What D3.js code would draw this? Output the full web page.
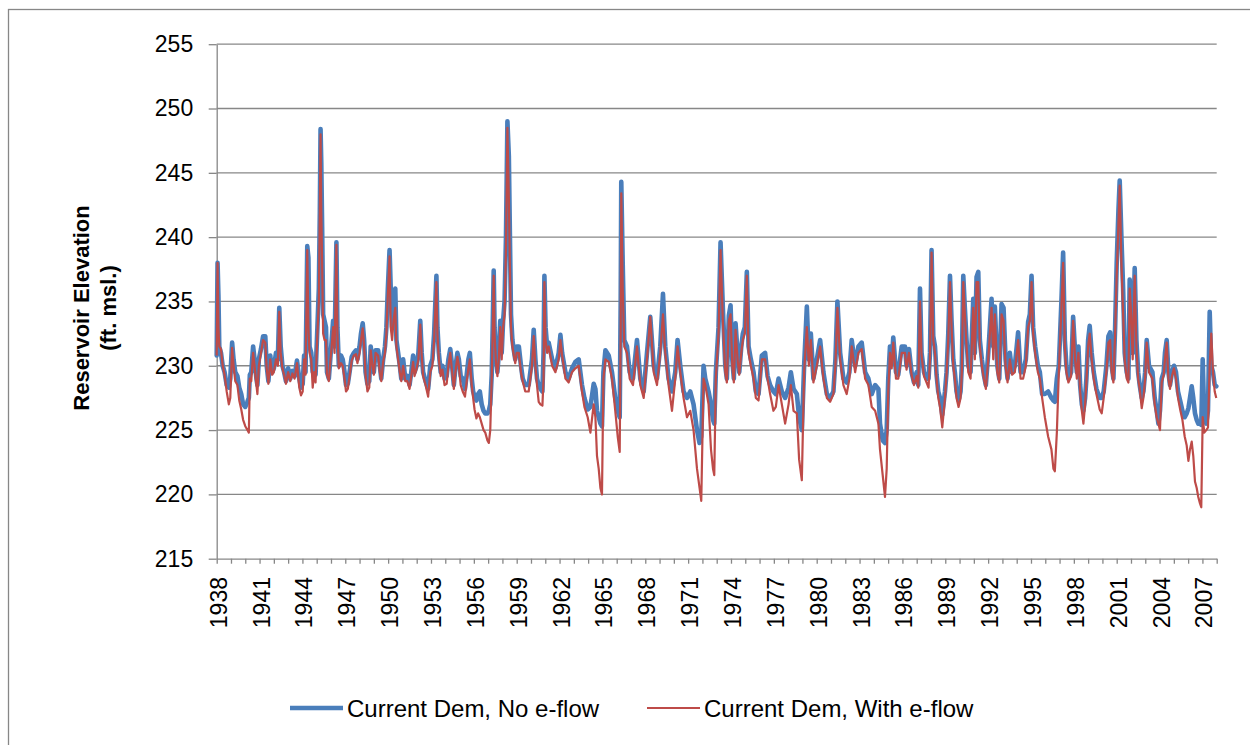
<!DOCTYPE html>
<html><head><meta charset="utf-8">
<script src="https://cdn.jsdelivr.net/npm/d3@7"></script>
<style>
body{margin:0;background:#fff}
svg{display:block}
text{font-family:"Liberation Sans",Arial,sans-serif;fill:#000}
</style>
</head><body>
<svg id="chart" width="1250" height="745"></svg>
<script>
// ---- data (decimal year, elevation in ft msl) ----
const dates = [
1938.00,1938.06,1938.12,1938.18,1938.30,1938.42,1938.55,1938.70,1938.85,1938.95,
1939.08,1939.18,1939.30,1939.45,1939.58,1939.72,1939.85,
1940.00,1940.15,1940.25,1940.32,1940.42,1940.55,1940.65,1940.78,1940.85,1940.95,
1941.10,1941.25,1941.40,1941.50,1941.62,1941.75,1941.88,
1942.00,1942.15,1942.28,1942.38,1942.48,1942.60,1942.72,1942.85,
1943.00,1943.15,1943.30,1943.45,1943.62,1943.78,1943.90,
1944.02,1944.12,1944.22,1944.34,1944.42,1944.50,1944.62,1944.72,1944.82,1944.92,
1945.05,1945.15,1945.22,1945.27,1945.32,1945.38,1945.45,1945.55,1945.65,1945.72,1945.85,1945.95,
1946.05,1946.15,1946.25,1946.38,1946.45,1946.55,1946.70,1946.82,1946.95,
1947.05,1947.18,1947.30,1947.45,1947.60,1947.75,1947.85,
1948.00,1948.10,1948.22,1948.32,1948.42,1948.55,1948.68,1948.78,1948.88,
1949.00,1949.12,1949.30,1949.42,1949.52,1949.65,1949.78,1949.88,1949.98,
1950.10,1950.18,1950.28,1950.38,1950.50,1950.58,1950.70,1950.82,1950.92,
1951.05,1951.20,1951.35,1951.50,1951.62,1951.75,1951.85,
1952.00,1952.12,1952.25,1952.35,1952.45,1952.62,1952.80,1952.95,
1953.10,1953.22,1953.38,1953.45,1953.55,1953.68,1953.80,1953.95,
1954.10,1954.22,1954.35,1954.48,1954.60,1954.72,1954.85,1954.95,
1955.08,1955.22,1955.38,1955.50,1955.62,1955.72,1955.85,1955.95,
1956.05,1956.18,1956.30,1956.42,1956.55,1956.68,1956.80,1956.95,
1957.05,1957.15,1957.25,1957.32,1957.39,1957.45,1957.55,1957.65,1957.75,1957.85,1957.95,
1958.05,1958.15,1958.25,1958.35,1958.45,1958.52,1958.60,1958.70,1958.80,1958.90,
1959.00,1959.15,1959.30,1959.42,1959.60,1959.84,
1960.07,1960.19,1960.31,1960.42,1960.54,1960.66,1960.80,1960.88,1960.94,
1961.02,1961.13,1961.24,1961.48,1961.71,1961.94,
1962.06,1962.18,1962.41,1962.64,1962.87,
1963.11,1963.34,1963.57,1963.74,1963.97,
1964.16,1964.39,1964.51,1964.62,1964.74,1964.86,1964.97,
1965.07,1965.21,1965.44,1965.67,1965.90,
1966.07,1966.21,1966.28,1966.32,1966.42,1966.53,1966.72,1966.91,
1967.14,1967.42,1967.65,1967.89,
1968.12,1968.35,1968.59,1968.82,
1969.05,1969.24,1969.40,1969.63,1969.87,
1970.10,1970.26,1970.45,1970.68,1970.92,
1971.15,1971.38,1971.62,1971.80,1971.92,
1972.08,1972.20,1972.43,1972.60,1972.74,1972.83,1972.94,
1973.13,1973.27,1973.43,1973.60,1973.71,1973.85,1973.97,
1974.09,1974.20,1974.32,1974.46,1974.58,1974.72,1974.83,1974.97,
1975.11,1975.23,1975.39,1975.58,1975.74,1975.93,
1976.16,1976.39,1976.56,1976.74,1976.97,
1977.14,1977.33,1977.56,1977.79,
1978.03,1978.19,1978.38,1978.61,1978.77,1978.96,
1979.12,1979.31,1979.45,1979.59,1979.77,
1980.01,1980.24,1980.47,1980.71,1980.94,
1981.17,1981.31,1981.45,1981.64,1981.87,
1982.10,1982.29,1982.45,1982.69,1982.92,
1983.15,1983.39,1983.62,1983.85,
1984.09,1984.32,1984.43,1984.62,1984.78,1984.90,
1985.01,1985.13,1985.25,1985.36,1985.55,1985.71,1985.95,
1986.18,1986.29,1986.46,1986.64,1986.81,
1987.00,1987.11,1987.23,1987.34,1987.51,1987.69,1987.83,1987.93,
1988.04,1988.16,1988.28,1988.39,1988.51,1988.63,1988.79,1988.98,
1989.09,1989.21,1989.33,1989.44,1989.56,1989.67,1989.79,1989.93,
1990.07,1990.16,1990.26,1990.37,1990.49,1990.61,1990.77,1990.96,
1991.07,1991.19,1991.31,1991.42,1991.56,1991.70,1991.84,
1992.01,1992.24,1992.36,1992.47,1992.64,1992.78,1992.94,
1993.08,1993.22,1993.36,1993.52,1993.68,1993.87,
1994.10,1994.27,1994.45,1994.64,1994.80,1994.92,
1995.04,1995.15,1995.29,1995.48,1995.62,1995.78,1995.97,
1996.20,1996.43,1996.57,1996.67,1996.81,1996.95,
1997.13,1997.25,1997.37,1997.48,1997.62,1997.81,1997.95,
1998.09,1998.21,1998.32,1998.44,1998.56,1998.67,1998.79,1998.88,
1999.00,1999.11,1999.25,1999.39,1999.58,1999.81,1999.95,
2000.09,2000.28,2000.42,2000.54,2000.65,2000.77,2000.89,
2001.00,2001.12,2001.21,2001.33,2001.45,2001.56,2001.70,2001.82,2001.91,
2002.01,2002.12,2002.26,2002.38,2002.50,2002.61,2002.75,2002.87,2002.99,
2003.10,2003.26,2003.50,2003.66,2003.80,2003.92,
2004.03,2004.15,2004.29,2004.38,2004.50,2004.62,2004.73,2004.87,
2005.01,2005.15,2005.29,2005.46,2005.60,2005.76,2005.90,
2006.02,2006.13,2006.25,2006.36,2006.48,2006.60,2006.71,2006.83,2006.92,
2007.02,2007.13,2007.27,2007.39,2007.51,2007.62,2007.74,2007.86,2007.97
];
const noEflow = [
230.8,238.0,235.5,231.5,231.0,230.0,229.5,228.5,228.3,229.0,
231.8,230.5,229.5,229.2,228.3,227.8,227.0,
226.8,227.2,227.5,229.3,229.5,231.5,230.5,229.0,228.5,230.5,
231.3,232.3,232.3,230.0,228.8,230.8,229.5,
229.8,231.0,230.5,234.5,231.5,230.0,229.5,228.8,
229.8,229.0,229.6,229.2,230.4,229.0,228.3,
228.6,230.8,229.5,239.3,238.4,231.5,231.0,229.5,230.0,229.3,
233.0,236.0,242.0,248.4,245.8,240.8,234.0,233.5,233.0,229.5,229.0,230.5,
232.0,233.5,231.5,239.6,233.0,230.0,230.8,230.5,229.5,
228.5,228.6,229.5,230.7,231.0,231.2,230.5,
231.5,232.5,233.3,232.0,229.5,228.6,228.8,231.5,230.5,
229.5,231.2,231.2,230.0,229.0,230.5,231.5,233.0,236.0,
239.0,236.1,233.0,234.5,236.0,232.0,231.0,230.0,229.0,
230.5,229.0,229.2,228.5,229.5,230.8,229.5,
230.0,231.0,233.5,231.0,229.5,228.8,228.2,230.0,
230.5,232.5,237.0,233.0,231.0,229.5,230.0,229.0,
229.2,230.5,231.3,230.0,228.5,230.0,231.0,230.5,
229.2,229.0,228.2,229.3,230.5,231.0,229.0,228.0,
227.6,227.3,227.8,228.0,227.0,226.5,226.3,226.3,
226.5,227.0,229.3,233.0,237.4,233.0,230.5,229.5,231.0,233.5,231.0,
233.5,235.0,240.0,249.0,246.3,240.5,234.0,232.0,231.2,230.5,
231.5,231.5,230.0,229.0,228.5,228.5,
230.5,232.8,230.5,229.0,228.5,228.2,228.0,231.0,237.0,
233.0,231.5,231.8,230.5,229.8,231.0,
232.4,231.0,229.5,229.0,229.8,
230.3,230.5,228.5,227.5,226.6,
226.8,228.6,228.2,226.5,226.0,225.5,225.3,
229.5,231.2,230.8,229.5,227.5,
226.5,226.0,235.0,244.3,238.0,232.0,231.5,229.5,
229.0,232.0,229.0,228.0,
231.0,233.8,230.0,229.0,
231.5,235.6,231.5,229.0,228.0,
229.5,232.0,230.0,228.0,227.5,
228.0,227.0,225.0,224.0,224.5,
230.0,229.0,228.0,227.0,225.8,225.5,229.5,
233.0,239.6,234.5,230.0,229.0,233.9,234.7,
230.5,229.0,233.3,231.0,229.5,231.5,232.5,233.0,
237.3,231.5,230.5,229.5,228.0,227.8,
230.8,231.0,229.2,228.5,228.0,
227.8,229.0,228.0,227.5,
228.3,229.5,228.2,227.8,226.0,225.0,
230.0,234.6,230.5,232.5,229.0,
230.5,232.0,229.5,227.8,227.5,
228.0,230.5,235.0,231.0,229.0,
228.7,229.5,232.0,230.0,231.5,
231.8,229.5,229.0,227.8,
228.5,228.2,225.5,224.2,224.0,225.0,
229.0,231.5,230.2,232.2,229.5,229.3,231.5,
231.5,230.0,231.3,229.5,228.7,
229.5,228.5,236.0,231.0,229.5,229.0,229.0,231.0,
239.0,232.3,231.5,229.3,228.0,227.5,226.2,228.0,
229.5,232.5,237.0,233.5,230.5,229.5,228.0,227.3,
228.0,230.0,237.0,234.5,232.0,230.0,229.5,235.2,
231.0,236.9,237.3,232.0,230.5,229.3,228.5,
231.0,235.2,231.5,234.6,230.0,229.0,234.8,
234.5,230.5,229.0,231.0,229.5,230.0,
232.6,229.5,229.5,230.5,233.4,234.0,
237.0,233.0,231.5,230.0,229.5,227.8,227.8,
228.0,227.5,227.3,227.2,229.0,230.0,
235.0,238.8,232.0,230.0,229.0,229.5,233.8,
231.0,229.5,231.5,228.5,227.0,226.5,227.5,229.0,
232.0,233.1,231.0,229.5,228.2,227.5,227.5,
228.0,230.0,232.3,232.6,230.0,229.0,233.0,
238.0,242.0,244.4,240.0,236.0,231.0,229.5,229.0,236.7,
234.5,231.0,237.6,232.0,229.5,228.5,227.5,228.0,229.5,
232.0,230.0,229.5,227.5,226.5,225.5,
226.5,229.0,229.5,231.0,232.0,229.5,228.5,229.5,
230.0,229.5,228.0,227.2,226.5,226.0,226.3,
226.7,227.5,228.4,227.5,226.3,225.8,225.5,225.6,225.4,
230.5,226.0,225.5,226.5,234.2,230.0,229.5,228.5,228.4
];
const withEflow = [
230.8,238.0,233.0,231.5,231.3,230.0,229.3,228.0,227.0,227.5,
231.4,230.0,228.8,228.5,227.3,226.6,225.8,
225.3,225.0,224.8,229.0,228.8,231.0,230.0,228.5,227.8,230.0,
231.0,232.0,231.8,229.8,228.6,230.5,229.3,
229.5,230.5,230.0,234.2,231.0,229.8,229.3,228.6,
229.5,228.8,229.4,229.0,230.2,228.3,227.7,
228.0,230.5,229.3,239.0,233.0,231.0,230.5,228.3,229.5,228.7,
232.5,235.0,242.0,248.0,242.0,238.0,232.5,232.0,232.0,229.3,228.8,230.3,
231.5,233.0,231.0,239.4,232.5,229.8,230.2,230.0,229.0,
228.0,228.2,229.2,230.4,230.8,230.9,230.2,
231.0,232.0,232.9,231.5,229.3,228.0,228.3,231.2,230.2,
229.3,231.0,230.8,229.5,228.8,230.3,231.0,232.5,235.5,
238.5,233.0,232.0,233.5,234.5,231.5,230.5,229.5,228.8,
230.0,228.8,228.8,228.2,229.2,230.3,229.2,
229.8,230.5,233.2,230.8,229.2,228.5,227.6,229.5,
230.0,232.0,236.5,232.5,230.5,229.2,229.7,228.5,
228.6,230.0,231.0,229.5,228.2,229.6,230.7,230.0,
228.5,228.0,227.6,228.8,229.8,230.5,228.5,227.5,
226.6,225.9,226.3,226.0,225.5,225.0,224.8,224.2,
224.0,225.0,229.0,232.5,237.0,232.5,230.2,229.2,230.6,233.0,230.5,
233.0,234.0,239.0,248.5,243.0,238.0,233.0,231.5,230.8,230.2,
231.0,231.0,229.5,228.8,228.0,228.0,
230.0,232.3,230.0,228.5,227.2,227.0,226.9,229.0,236.5,
232.0,231.0,231.5,230.0,229.5,230.5,
232.0,230.8,229.0,228.7,229.5,
229.8,230.0,228.0,226.8,226.0,
224.8,227.0,226.0,223.0,222.0,220.5,220.0,
229.0,230.5,230.3,229.0,226.5,
224.5,223.3,233.0,243.4,236.0,231.5,231.0,229.0,
228.5,231.5,228.5,227.5,
230.5,233.8,229.5,228.5,
231.0,234.0,231.0,228.5,226.5,
229.0,231.5,229.5,227.5,226.0,
226.5,225.0,222.0,220.5,219.5,
229.0,228.5,227.0,223.5,222.0,221.5,229.0,
232.5,239.0,233.5,229.5,228.7,233.5,234.0,
230.0,228.7,232.8,230.5,229.3,231.0,232.0,232.5,
237.0,231.0,230.0,229.0,227.5,227.3,
230.5,230.5,229.0,227.8,226.5,
226.8,228.5,227.0,225.5,
227.0,228.5,226.5,226.3,222.7,221.1,
229.5,233.0,230.0,232.0,228.7,
230.0,231.5,229.0,227.5,227.2,
227.8,230.0,234.5,230.5,228.5,
227.8,229.0,231.5,229.5,231.0,
231.3,229.0,228.5,226.8,
226.5,225.5,223.5,221.5,219.8,222.0,
228.0,231.0,229.8,231.8,229.0,229.0,231.0,
231.0,229.7,231.0,229.3,228.5,
229.2,228.3,235.0,230.8,229.2,228.7,228.3,230.5,
238.8,232.0,231.0,229.0,227.5,226.8,225.2,227.5,
229.3,232.0,236.5,233.0,230.0,229.0,227.5,226.8,
227.5,229.5,236.5,234.0,231.5,229.5,229.0,234.5,
230.5,236.5,236.5,231.5,230.0,229.0,228.2,
230.5,234.5,230.5,234.0,229.5,228.7,234.0,
233.5,230.0,228.7,230.5,229.3,229.5,
232.0,229.0,229.0,230.0,233.0,233.5,
236.5,232.5,231.0,229.5,229.0,227.5,226.0,
224.5,223.5,222.0,221.8,224.8,229.5,
234.5,238.0,231.5,229.5,228.7,229.2,233.5,
230.5,229.0,231.0,228.0,226.5,225.5,227.0,228.7,
231.5,232.5,230.5,229.0,227.8,226.6,226.3,
227.5,229.5,231.8,232.0,229.5,228.7,232.5,
237.0,241.0,244.0,238.0,234.0,230.5,229.0,228.7,236.0,
234.0,230.5,237.0,231.5,229.0,228.2,226.7,227.5,229.0,
231.8,229.5,229.0,227.0,226.0,225.5,
225.0,228.7,229.3,230.5,231.8,229.0,228.2,229.2,
229.8,229.0,227.5,226.5,225.8,224.5,223.8,
222.6,223.5,224.1,223.0,221.0,220.5,219.8,219.3,219.0,
226.0,224.8,225.0,225.2,230.0,232.5,229.5,228.0,227.5
];
const seriesNames = ["Current Dem, No e-flow", "Current Dem, With e-flow"];
const yTickValues = [215, 220, 225, 230, 235, 240, 245, 250, 255];
const xLabelYears = [1938,1941,1944,1947,1950,1953,1956,1959,1962,1965,1968,1971,1974,1977,1980,1983,1986,1989,1992,1995,1998,2001,2004,2007];
const xTickYears = [1938,1939,1940,1941,1942,1943,1944,1945,1946,1947,1948,1949,1950,1951,1952,1953,1954,1955,1956,1957,1958,1959,1960,1961,1962,1963,1964,1965,1966,1967,1968,1969,1970,1971,1972,1973,1974,1975,1976,1977,1978,1979,1980,1981,1982,1983,1984,1985,1986,1987,1988,1989,1990,1991,1992,1993,1994,1995,1996,1997,1998,1999,2000,2001,2002,2003,2004,2005,2006,2007,2008];
const yTitle = ["Reservoir Elevation", "(ft. msl.)"];

// ---- layout ----
const svg = d3.select("#chart");
const L = 216.7, R = 1216.7, T = 44.2, B = 558.7;
const gridColor = "#878787";
const blue = "#4A7EBB", red = "#BE4B48";

const x = d3.scaleLinear().domain([1938, 2008]).range([L, R]);
const y = d3.scaleLinear().domain([215, 255]).range([B, T]);

// outer border
svg.append("rect").attr("x", 8.5).attr("y", 9.5).attr("width", 1300).attr("height", 800)
  .attr("fill", "none").attr("stroke", gridColor).attr("stroke-width", 1.3);

// gridlines
svg.append("g").selectAll("line").data(yTickValues.filter(v => v > 215)).join("line")
  .attr("x1", L).attr("x2", R).attr("y1", d => y(d)).attr("y2", d => y(d))
  .attr("stroke", gridColor).attr("stroke-width", 1.3);

// y axis
const yAxis = svg.append("g").attr("transform", `translate(${L},0)`)
  .call(d3.axisLeft(y).tickValues(yTickValues).tickSize(8).tickSizeOuter(0).tickPadding(15.5));
yAxis.select(".domain").attr("stroke", gridColor).attr("stroke-width", 1.3);
yAxis.selectAll(".tick line").attr("stroke", gridColor).attr("stroke-width", 1.3);
yAxis.selectAll(".tick text").attr("font-size", 23).attr("font-family", "Liberation Sans, Arial, sans-serif").attr("fill", "#000");

// x axis
const xAxis = svg.append("g").attr("transform", `translate(0,${B})`)
  .call(d3.axisBottom(x).tickValues(xTickYears).tickSize(5).tickSizeOuter(0).tickFormat(""));
xAxis.select(".domain").attr("stroke", gridColor).attr("stroke-width", 1.3);
xAxis.selectAll(".tick line").attr("stroke", gridColor).attr("stroke-width", 1.3);

svg.append("g").selectAll("text").data(xLabelYears).join("text")
  .attr("transform", d => `translate(${x(d) + 1.8},577) rotate(-90)`)
  .attr("text-anchor", "end").attr("dy", "0.36em")
  .attr("font-size", 23).text(d => d);

// y title
const yt = svg.append("g").attr("transform", "translate(0,308) rotate(-90)");
yt.append("text").attr("x", 0).attr("y", 89).attr("text-anchor", "middle")
  .attr("font-size", 22).attr("font-weight", "bold").text(yTitle[0]);
yt.append("text").attr("x", 0).attr("y", 116).attr("text-anchor", "middle")
  .attr("font-size", 22).attr("font-weight", "bold").text(yTitle[1]);

// series
const rowsB = dates.map((d, i) => [d, noEflow[i]]);
const rowsR = dates.map((d, i) => [d, withEflow[i]]);
const line = d3.line().x(d => x(d[0])).y(d => y(d[1]));
svg.append("path").datum(rowsB).attr("d", line).attr("fill", "none")
  .attr("stroke", blue).attr("stroke-width", 4.6).attr("stroke-linejoin", "round").attr("stroke-linecap", "round");
svg.append("path").datum(rowsR).attr("d", line).attr("fill", "none")
  .attr("stroke", red).attr("stroke-width", 2.2).attr("stroke-linejoin", "round");

// legend
const legend = [
  {name: seriesNames[0], color: blue, w: 4.6, x0: 290},
  {name: seriesNames[1], color: red, w: 2.2, x0: 647}
];
const lg = svg.append("g");
legend.forEach(l => {
  lg.append("line").attr("x1", l.x0).attr("x2", l.x0 + 53).attr("y1", 708).attr("y2", 708)
    .attr("stroke", l.color).attr("stroke-width", l.w);
  lg.append("text").attr("x", l.x0 + 57).attr("y", 708).attr("dy", "0.36em")
    .attr("font-size", 24).text(l.name);
});
</script>
</body></html>
